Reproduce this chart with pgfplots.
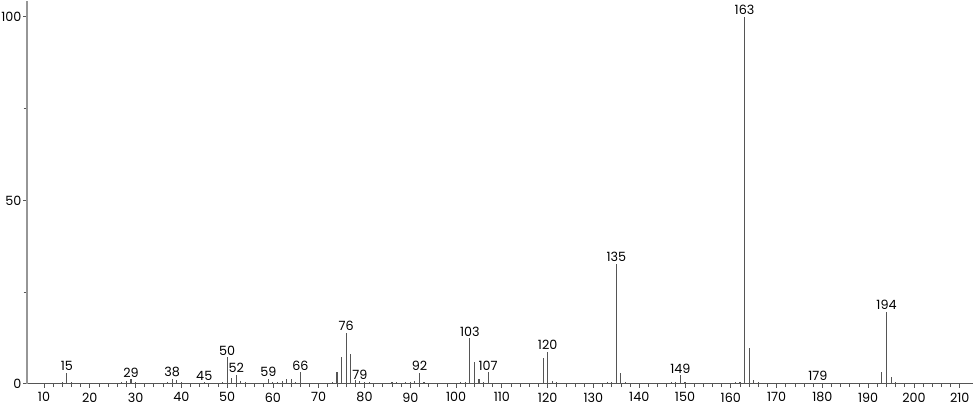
\documentclass[border=0pt]{standalone}
\usepackage{fontspec}
\setmainfont{Poppins}
\usepackage{pgfplots}
\pgfplotsset{compat=1.18}
\definecolor{peak}{RGB}{85,85,85}
\definecolor{axisgray}{RGB}{150,150,150}

\begin{document}
\begin{tikzpicture}[x=1pt,y=1pt]
\begin{axis}[
    scale only axis,
    width=705.75pt, height=285.75pt,
    xmin=6.3, xmax=213, ymin=0, ymax=104.4,
    axis lines*=left,
    axis line style={axisgray, line width=1pt},
    x axis line style={peak, line width=0.8pt},
    xtick={10,20,...,210},
    minor x tick num=4,
    ytick={0,50,100},
    minor ytick={25,75},
    tick align=outside,
    major tick length=3pt,
    minor tick length=2.5pt,
    tick style={peak, line width=0.6pt},
    every tick label/.append style={font=\fontsize{9.5}{10}\selectfont, text=black},
    yticklabel style={inner xsep=1pt},
    /pgf/number format/assume math mode=true,
    clip=false,
]
\addplot+[ycomb, mark=none, peak, line width=0.8pt] coordinates {
(14,0.5)(15,3.0)(16,0.4)
(26,0.3)(27,0.5)(28,0.9)(29,1.2)(30,0.4)(31,0.3)
(36,0.3)(37,0.6)(38,1.2)(39,1.1)(40,0.4)(41,0.3)
(44,0.3)(45,0.4)
(49,0.5)(50,7.2)(51,1.5)(52,2.4)(53,0.8)(54,0.5)(55,0.3)
(57,0.3)(59,1.3)(60,0.4)(61,0.5)(62,0.7)(63,1.2)(64,1.2)(65,0.5)(66,3.1)
(73,0.5)(74,3.3)(75,7.4)(76,13.9)(77,8.1)(78,1.0)(79,0.7)(80,0.4)(81,0.5)(82,0.3)
(86,0.4)(87,0.4)(88,0.3)(89,0.5)(90,0.5)(91,0.9)(92,3.0)(93,0.4)
(101,0.4)(102,0.5)(103,12.4)(104,6.0)(105,1.3)(106,0.5)(107,3.1)
(118,0.3)(119,7.0)(120,8.8)(121,0.9)(122,0.4)
(132,0.3)(133,0.5)(134,0.5)(135,32.6)(136,2.9)(137,0.5)
(147,0.4)(148,0.6)(149,2.3)(150,0.5)(151,0.3)
(160,0.3)(161,0.5)(162,0.6)(163,100)(164,9.8)(165,1.0)(166,0.5)
(179,0.3)(180,0.3)
(193,3.1)(194,19.7)(195,2.0)(196,0.5)
};
\addplot[draw=none, mark=none, point meta=explicit symbolic,
    nodes near coords,
    every node near coord/.append style={font=\fontsize{9.5}{10}\selectfont, text=black, inner sep=1.5pt}]
coordinates {
(15,3.0)[15] (29,1.2)[29] (38,1.2)[38] (45,0.4)[45] (50,7.2)[50] (52,2.4)[52]
(59,1.3)[59] (66,3.1)[66] (76,13.9)[76] (79,0.7)[79] (92,3.0)[92]
(103,12.4)[103] (107,3.1)[107] (120,8.8)[120] (135,32.6)[135] (149,2.3)[149]
(163,100)[163] (179,0.3)[179] (194,19.7)[194]
};
\end{axis}
\end{tikzpicture}
\end{document}
